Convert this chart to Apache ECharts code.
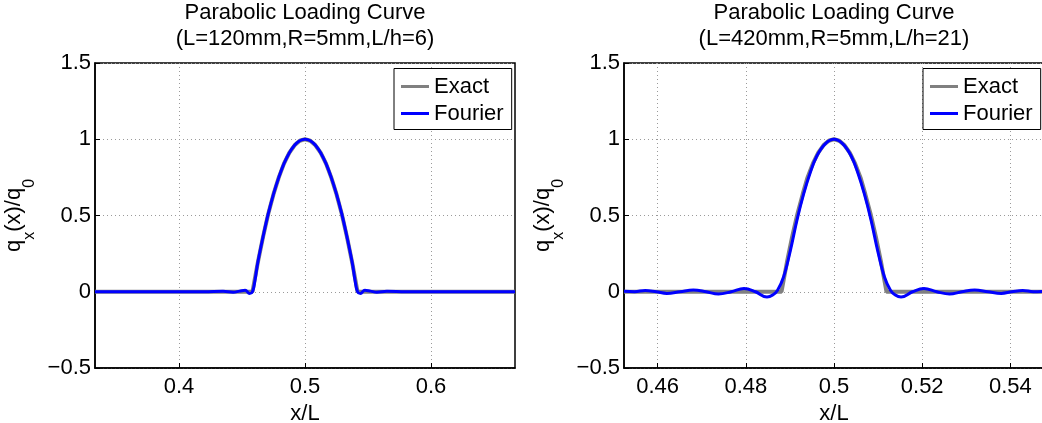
<!DOCTYPE html>
<html>
<head>
<meta charset="utf-8">
<script src="https://cdn.jsdelivr.net/npm/echarts@6/dist/echarts.min.js"></script>
<style>
html,body{margin:0;padding:0;background:#fff;}
#chart{width:1042px;height:423px;}
</style>
</head>
<body>
<div id="chart"></div>
<script>
// ---------- data ----------
const titles = ['Parabolic Loading Curve\n(L=120mm,R=5mm,L/h=6)', 'Parabolic Loading Curve\n(L=420mm,R=5mm,L/h=21)'];
const seriesNames = ['Exact', 'Fourier'];
const leftRange = [0.33333, 0.66667];
const leftTicks = [0.4, 0.5, 0.6];
const rightRange = [0.452381, 0.547619];
const rightTicks = [0.46, 0.48, 0.5, 0.52, 0.54];

const leftExactX = [0.33333, 0.4583, 0.4625, 0.4667, 0.4708, 0.4750, 0.4792, 0.4833, 0.4875, 0.4917, 0.4958, 0.5, 0.5042, 0.5083, 0.5125, 0.5167, 0.5208, 0.5250, 0.5292, 0.5333, 0.5375, 0.5417, 0.66667];
const leftExactY = [0, 0, 0.19, 0.36, 0.51, 0.64, 0.75, 0.84, 0.91, 0.96, 0.99, 1, 0.99, 0.96, 0.91, 0.84, 0.75, 0.64, 0.51, 0.36, 0.19, 0, 0];

const leftFourierX = [0.33333, 0.38, 0.42, 0.435, 0.443, 0.448, 0.4525, 0.4560, 0.4583, 0.4602, 0.4625, 0.4667, 0.4708, 0.4750, 0.4792, 0.4833, 0.4875, 0.4917, 0.4958, 0.5, 0.5042, 0.5083, 0.5125, 0.5167, 0.5208, 0.5250, 0.5292, 0.5333, 0.5375, 0.5398, 0.5417, 0.5440, 0.5475, 0.552, 0.557, 0.565, 0.58, 0.62, 0.66667];
const leftFourierY = [0, 0, 0, 0.003, -0.003, 0.004, 0.01, -0.012, 0.0, 0.07, 0.19, 0.36, 0.51, 0.64, 0.75, 0.84, 0.91, 0.96, 0.99, 1, 0.99, 0.96, 0.91, 0.84, 0.75, 0.64, 0.51, 0.36, 0.19, 0.07, 0, -0.012, 0.01, 0.004, -0.003, 0.003, 0, 0, 0];

const rightExactX = [0.452381, 0.4881, 0.4893, 0.4905, 0.4917, 0.4929, 0.4940, 0.4952, 0.4964, 0.4976, 0.4988, 0.5, 0.5012, 0.5024, 0.5036, 0.5048, 0.5060, 0.5071, 0.5083, 0.5095, 0.5107, 0.5119, 0.547619];
const rightExactY = [0, 0, 0.19, 0.36, 0.51, 0.64, 0.75, 0.84, 0.91, 0.96, 0.99, 1, 0.99, 0.96, 0.91, 0.84, 0.75, 0.64, 0.51, 0.36, 0.19, 0, 0];

const rightFourierX = [0.452381, 0.4548, 0.4572, 0.4597, 0.4621, 0.4651, 0.4681, 0.4710, 0.4738, 0.4767, 0.4796, 0.4822, 0.4848, 0.4861, 0.4872, 0.4886, 0.4901, 0.4916, 0.4931, 0.4946, 0.4961, 0.4980, 0.5, 0.5020, 0.5039, 0.5054, 0.5069, 0.5084, 0.5099, 0.5114, 0.5128, 0.5139, 0.5152, 0.5178, 0.5204, 0.5233, 0.5262, 0.5290, 0.5319, 0.5349, 0.5379, 0.5403, 0.5428, 0.5452, 0.547619];
const rightFourierY = [0.003, 0, 0.009, 0, -0.011, 0, 0.011, 0, -0.015, 0, 0.022, 0, -0.035, -0.022, 0.01, 0.10, 0.27, 0.47, 0.64, 0.78, 0.89, 0.97, 1.0, 0.97, 0.89, 0.78, 0.64, 0.47, 0.27, 0.10, 0.01, -0.022, -0.035, 0, 0.022, 0, -0.015, 0, 0.011, 0, -0.011, 0, 0.009, 0, 0.003];

// ---------- styling ----------
const FONT = '"Liberation Sans", Arial, Helvetica, sans-serif';
const FS = 22;
const EXACT_COLOR = '#808080';
const FOURIER_COLOR = '#0000ff';

function zip(xs, ys) { return xs.map((x, i) => [x, ys[i]]); }
function fmtNum(v) {
  const s = String(Math.round(v * 1000) / 1000);
  return v < 0 ? '\u2212' + s.slice(1) : s;
}

const grids = [
  { left: 95, top: 63, width: 420, height: 305 },
  { left: 624, top: 63, width: 420, height: 305 }
];
const centers = [305, 834];
const legendLefts = [394, 923];

function xAxisFor(i, range, ticks) {
  return {
    type: 'value', gridIndex: i, min: range[0], max: range[1],
    name: 'x/L', nameLocation: 'middle', nameGap: 31,
    nameTextStyle: { fontFamily: FONT, fontSize: FS, color: '#000', lineHeight: FS },
    axisLine: { show: true, onZero: false, lineStyle: { color: '#000', width: 1.5 } },
    axisTick: { show: true, inside: true, length: 5, customValues: ticks, lineStyle: { color: '#000', width: 1 } },
    axisLabel: { customValues: ticks, margin: 8, fontFamily: FONT, fontSize: FS, color: '#000', lineHeight: FS, formatter: fmtNum },
    splitLine: { show: true, lineStyle: { color: '#9a9a9a', width: 1, type: [1, 3] } }
  };
}
function yAxisFor(i) {
  return {
    type: 'value', gridIndex: i, min: -0.5, max: 1.5, interval: 0.5,
    name: '{a|q}{b|x}{a|(x)/q}{b|0}', nameLocation: 'middle', nameGap: 57,
    nameTextStyle: {
      rich: {
        a: { fontFamily: FONT, fontSize: FS, color: '#000', lineHeight: FS, padding: [0, 0, 13, 0], verticalAlign: 'bottom' },
        b: { fontFamily: FONT, fontSize: 16, color: '#000', lineHeight: 16, verticalAlign: 'bottom' }
      }
    },
    axisLine: { show: true, onZero: false, lineStyle: { color: '#000', width: 1.5 } },
    axisTick: { show: true, inside: true, length: 5, lineStyle: { color: '#000', width: 1 } },
    axisLabel: { margin: 4, fontFamily: FONT, fontSize: FS, color: '#000', formatter: fmtNum },
    splitLine: { show: true, lineStyle: { color: '#9a9a9a', width: 1, type: [1, 3] } }
  };
}
function lineSeries(name, i, data, color, width, smooth) {
  return {
    type: 'line', name: name, xAxisIndex: i, yAxisIndex: i, data: data,
    showSymbol: false, symbol: 'none', smooth: smooth, animation: false,
    lineStyle: { color: color, width: width }, itemStyle: { color: color }, clip: true
  };
}

const option = {
  animation: false,
  backgroundColor: '#fff',
  title: titles.map((t, i) => ({
    text: t, left: centers[i], top: 0, textAlign: 'center', padding: 0,
    textStyle: { fontFamily: FONT, fontSize: FS, fontWeight: 'normal', color: '#000', lineHeight: 26 }
  })),
  legend: legendLefts.map((l) => ({
    data: seriesNames, orient: 'vertical', left: l, top: 68.5,
    icon: 'rect', itemWidth: 28, itemHeight: 3, itemGap: 5,
    padding: [7, 8, 5, 7], borderColor: '#000', borderWidth: 1, backgroundColor: '#fff',
    textStyle: { fontFamily: FONT, fontSize: FS, color: '#000', lineHeight: FS },
    selectedMode: false
  })),
  grid: grids.map(g => Object.assign({ show: true, borderColor: '#000', borderWidth: 1.5, backgroundColor: 'transparent', containLabel: false, outerBoundsMode: 'none' }, g)),
  xAxis: [xAxisFor(0, leftRange, leftTicks), xAxisFor(1, rightRange, rightTicks)],
  yAxis: [yAxisFor(0), yAxisFor(1)],
  series: [
    lineSeries(seriesNames[0], 0, zip(leftExactX, leftExactY), EXACT_COLOR, 4, false),
    lineSeries(seriesNames[1], 0, zip(leftFourierX, leftFourierY), FOURIER_COLOR, 3, 0.4),
    lineSeries(seriesNames[0], 1, zip(rightExactX, rightExactY), EXACT_COLOR, 4, false),
    lineSeries(seriesNames[1], 1, zip(rightFourierX, rightFourierY), FOURIER_COLOR, 3, 0.4)
  ]
};

const chart = echarts.init(document.getElementById('chart'), null, { renderer: 'canvas' });
chart.setOption(option);
</script>
</body>
</html>
